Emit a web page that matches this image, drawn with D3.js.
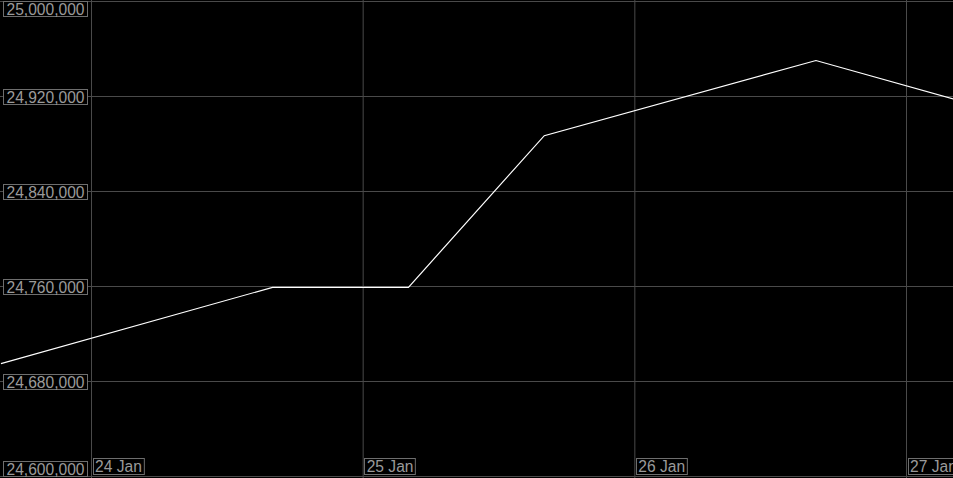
<!DOCTYPE html>
<html><head><meta charset="utf-8">
<script src="https://cdn.jsdelivr.net/npm/d3@7"></script>
<style>html,body{margin:0;padding:0;background:#000;}svg{display:block;}</style>
</head><body>
<svg id="c" width="953" height="478"></svg>
<script>
const dates = ["2025-01-23T16:00","2025-01-24T16:00","2025-01-25T04:00","2025-01-25T16:00","2025-01-26T16:00","2025-01-27T04:30"];
const values = [24695000, 24759300, 24759300, 24887000, 24950300, 24917000];
const yTicks = [24600000, 24680000, 24760000, 24840000, 24920000, 25000000];
const xTicks = ["2025-01-24T00:00","2025-01-25T00:00","2025-01-26T00:00","2025-01-27T00:00"];
const xTickLabels = ["24 Jan","25 Jan","26 Jan","27 Jan"];

const W = 953, H = 478;
const svg = d3.select("#c");
const data = dates.map((d,i)=>({t:new Date(d), v:values[i]}));

const x = d3.scaleTime().domain([new Date(xTicks[0]), new Date(xTicks[3])]).range([91.5, 906.5]);
const y = d3.scaleLinear().domain([24600000, 25000000]).range([476.5, 1.5]);

const grid = "#4a4a4a";
const g = svg.append("g");
g.selectAll("line.h").data(yTicks).join("line")
  .attr("x1",0).attr("x2",W).attr("y1",d=>y(d)).attr("y2",d=>y(d))
  .attr("stroke",grid).attr("stroke-width",1);
g.selectAll("line.v").data(xTicks).join("line")
  .attr("x1",d=>x(new Date(d))).attr("x2",d=>x(new Date(d))).attr("y1",0).attr("y2",H)
  .attr("stroke",grid).attr("stroke-width",1);

const line = d3.line().x(d=>x(d.t)).y(d=>y(d.v));
svg.append("path").datum(data).attr("d",line).attr("fill","none").attr("stroke","#fff").attr("stroke-width",1.2);

const fmt = d3.format(",");
const font = "'Liberation Sans', Arial, sans-serif";
yTicks.forEach(v=>{
  let cy = y(v);
  let top = cy - 7.5;
  if (top < 1) top = 1;
  if (top > 461) top = 461;
  const gl = svg.append("g");
  gl.append("rect").attr("x",3.5).attr("y",top+0.5).attr("width",84).attr("height",15)
    .attr("fill","#000").attr("stroke","#6e6e6e").attr("stroke-width",1);
  gl.append("text").attr("x",84.5).attr("y",top+13.5).attr("text-anchor","end")
    .attr("font-family",font).attr("font-size",15.6).attr("fill","#9a9a9a").text(fmt(v));
});
xTicks.forEach((d,i)=>{
  const px = x(new Date(d));
  const gl = svg.append("g");
  const t = gl.append("text").attr("x",px+3.5).attr("y",471.5).attr("font-family",font)
    .attr("font-size",15.6).attr("fill","#9a9a9a").text(xTickLabels[i]);
  const w = t.node().getComputedTextLength();
  gl.insert("rect","text").attr("x",Math.round(px)+1.5).attr("y",458.5).attr("width",w+4).attr("height",16)
    .attr("fill","#000").attr("stroke","#6e6e6e").attr("stroke-width",1);
});
</script>
</body></html>
